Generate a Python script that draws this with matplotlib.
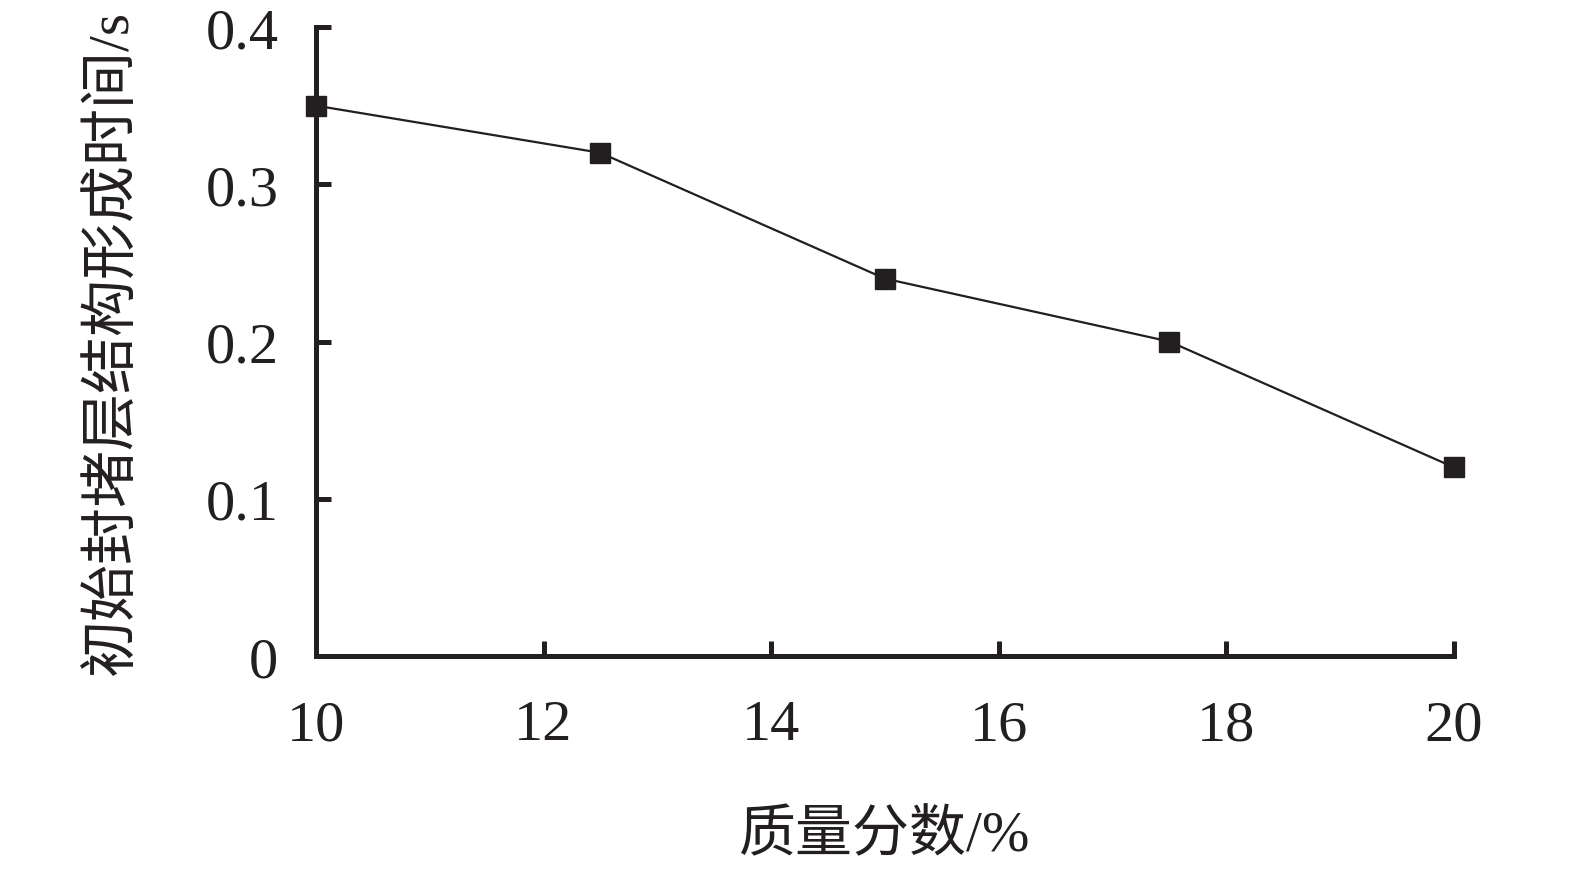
import matplotlib
matplotlib.use("Agg")
import matplotlib.pyplot as plt

# 质量分数 vs 初始封堵层结构形成时间
mass_fraction = [10, 12.5, 15, 17.5, 20]
form_time = [0.35, 0.32, 0.24, 0.20, 0.12]

x_ticks = [10, 12, 14, 16, 18, 20]
y_ticks = [0, 0.1, 0.2, 0.3, 0.4]
y_tick_labels = ["0", "0.1", "0.2", "0.3", "0.4"]

plt.rcParams['font.family'] = ['Liberation Serif', 'Noto Sans CJK SC', 'DejaVu Sans']

fig = plt.figure(figsize=(15.75, 8.7), dpi=100)
ax = fig.add_axes([0.2006, 0.2448, 0.7225, 0.7230])

ax.plot(mass_fraction, form_time, color="#231f20", lw=1.6,
        marker="s", markersize=15, markerfacecolor="#231f20", markeredgecolor="#231f20",
        clip_on=False, zorder=5)

ax.set_xlim(10, 20)
ax.set_ylim(0, 0.4)
ax.set_xticks(x_ticks)
ax.set_yticks(y_ticks)
ax.set_yticklabels(y_tick_labels)

for s in ["top", "right"]:
    ax.spines[s].set_visible(False)
for s in ["left", "bottom"]:
    ax.spines[s].set_linewidth(3.6)
    ax.spines[s].set_color("#231f20")

ax.tick_params(axis="both", direction="in", width=3.6, length=11, color="#231f20",
               labelsize=42, labelcolor="#231f20")
ax.tick_params(axis="x", pad=31)
ax.tick_params(axis="y", pad=27)

ax.set_xlabel("质量分数/%", fontsize=41, color="#231f20")
ax.set_ylabel("初始封堵层结构形成时间/s", fontsize=41, color="#231f20")
ax.xaxis.set_label_coords(0.50, -0.245)
ax.yaxis.set_label_coords(-0.155, 0.50)

fig.savefig("out.png", dpi=100)
